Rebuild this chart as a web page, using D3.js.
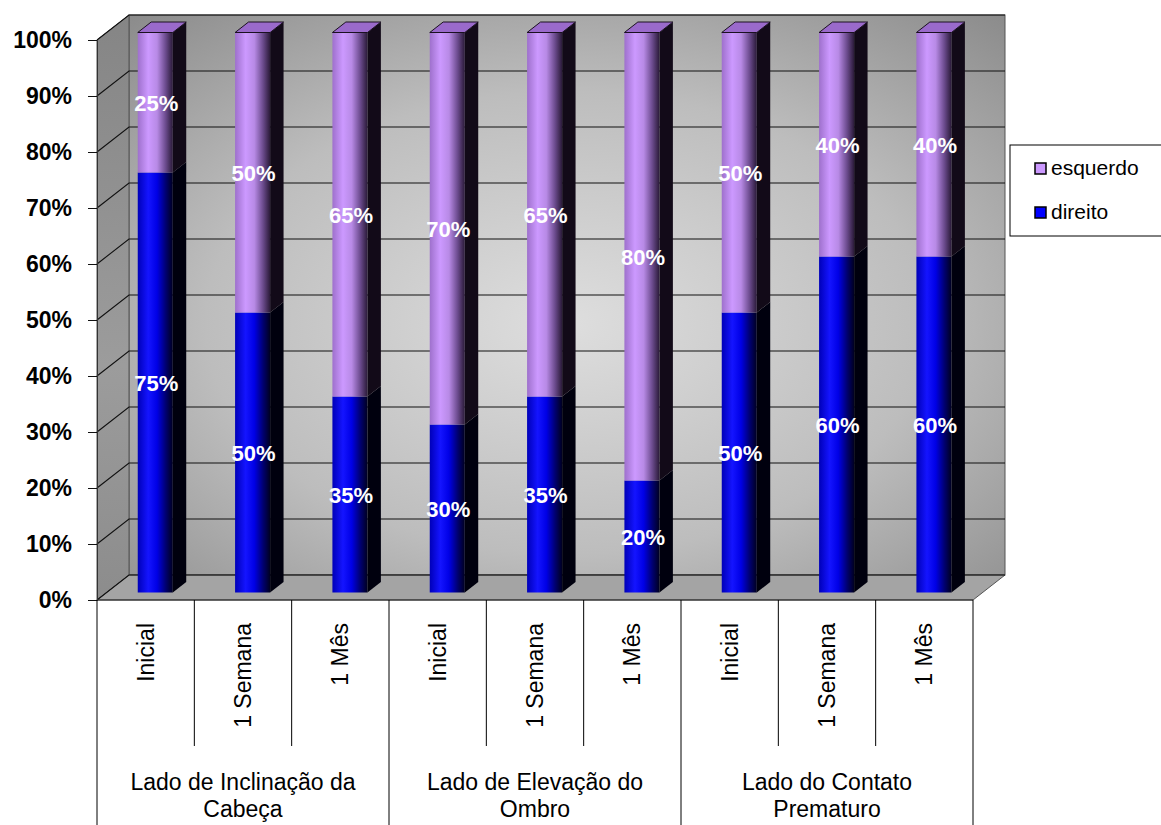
<!DOCTYPE html>
<html><head><meta charset="utf-8">
<script src="https://cdn.jsdelivr.net/npm/d3@7"></script>
<style>body{margin:0;background:#fff}svg{display:block}text{font-family:Arial,"Liberation Sans",sans-serif}</style>
</head><body><svg id="c" width="1161" height="825"></svg>
<script>
const subLabels = ["Inicial","1 Semana","1 Mês","Inicial","1 Semana","1 Mês","Inicial","1 Semana","1 Mês"];
const groups = [["Lado de Inclinação da","Cabeça"],["Lado de Elevação do","Ombro"],["Lado do Contato","Prematuro"]];
const direito = [75,50,35,30,35,20,50,60,60];
const esquerdo = [25,50,65,70,65,80,50,40,40];
const yTicks = [0,10,20,30,40,50,60,70,80,90,100];
const seriesNames = ["esquerdo","direito"];

const svg = d3.select("#c");
const DX = 32, DY = -25;
const x = d3.scaleBand().domain(d3.range(subLabels.length)).range([97, 973]).paddingInner(0).paddingOuter(0);
const y = d3.scaleLinear().domain([0,100]).range([600,40]);
const defs = svg.append("defs");

const rg = defs.append("radialGradient").attr("id","wall").attr("cx","0.5").attr("cy","0.55").attr("r","0.75");
rg.append("stop").attr("offset","0").attr("stop-color","#dedede");
rg.append("stop").attr("offset","0.55").attr("stop-color","#bdbdbd");
rg.append("stop").attr("offset","1").attr("stop-color","#8a8a8a");
const sg = defs.append("linearGradient").attr("id","side").attr("x1","0").attr("y1","0").attr("x2","0").attr("y2","1");
sg.append("stop").attr("offset","0").attr("stop-color","#858585");
sg.append("stop").attr("offset","0.6").attr("stop-color","#9c9c9c");
sg.append("stop").attr("offset","1").attr("stop-color","#8c8c8c");

function hgrad(id, stops){
  const g = defs.append("linearGradient").attr("id",id).attr("x1","0").attr("x2","1").attr("y1","0").attr("y2","0");
  stops.forEach(s=>g.append("stop").attr("offset",s[0]).attr("stop-color",s[1]));
}
hgrad("blueF",[[0,"#0000b8"],[0.3,"#1414ff"],[0.55,"#0000e6"],[0.8,"#000070"],[1,"#000020"]]);
hgrad("purpF",[[0,"#9e70cc"],[0.3,"#cc99ff"],[0.55,"#b88ae6"],[0.8,"#6a4a8c"],[1,"#2a1a38"]]);

const y0 = y(0), yT = y(100), xL = x.range()[0], xR = x.range()[1];
svg.append("rect").attr("x",xL+DX).attr("y",yT+DY).attr("width",xR-xL).attr("height",y0-yT)
  .attr("fill","url(#wall)").attr("stroke","#555").attr("stroke-width",1);
svg.append("path").attr("d",`M${xL},${yT}L${xL+DX},${yT+DY}L${xL+DX},${y0+DY}L${xL},${y0}Z`)
  .attr("fill","url(#side)").attr("stroke","#555").attr("stroke-width",1);
svg.append("path").attr("d",`M${xL},${y0}L${xL+DX},${y0+DY}L${xR+DX},${y0+DY}L${xR},${y0}Z`)
  .attr("fill","#a4a4a4").attr("stroke","#555").attr("stroke-width",1);
yTicks.forEach(t=>{
  const yy = y(t);
  svg.append("path").attr("d",`M${xL},${yy}L${xL+DX},${yy+DY}L${xR+DX},${yy+DY}`)
    .attr("fill","none").attr("stroke","#111").attr("stroke-width",1.1);
});
svg.append("line").attr("x1",xL).attr("y1",y0).attr("x2",xR).attr("y2",y0).attr("stroke","#222");

const yAxis = d3.axisLeft(y).tickValues(yTicks).tickSize(9).tickPadding(16).tickFormat(d=>d+"%");
const ga = svg.append("g").attr("transform",`translate(${xL},0)`).call(yAxis);
ga.select(".domain").attr("stroke","#333");
ga.selectAll(".tick line").attr("stroke","#111");
ga.selectAll(".tick text").attr("font-size",23).attr("font-weight","bold").attr("fill","#000")
  .style("font-family","Arial, 'Liberation Sans', sans-serif");

const f0 = 0.3, f1 = 0.72;
const bw = x.bandwidth()*0.36;
const ox = DX*f0, oy = DY*f0, dxs = DX*(f1-f0), dys = DY*(f1-f0);
const bars = svg.append("g");
const labels = svg.append("g");
direito.forEach((dv,i)=>{
  const bx = x(i) + (x.bandwidth()-bw)/2 + ox;
  const segs = [{a:0,b:dv,fill:"url(#blueF)",side:"#00000e",top:"#2020c0"},
                {a:dv,b:dv+esquerdo[i],fill:"url(#purpF)",side:"#120a18",top:"#9a6acb"}];
  segs.forEach((s,k)=>{
    const ya = y(s.a)+oy, yb = y(s.b)+oy;
    bars.append("path").attr("d",`M${bx+bw},${yb}L${bx+bw+dxs},${yb+dys}L${bx+bw+dxs},${ya+dys}L${bx+bw},${ya}Z`).attr("fill",s.side);
    bars.append("rect").attr("x",bx).attr("y",yb).attr("width",bw).attr("height",ya-yb).attr("fill",s.fill);
    if(k===1){
      bars.append("path").attr("d",`M${bx},${yb}L${bx+dxs},${yb+dys}L${bx+bw+dxs},${yb+dys}L${bx+bw},${yb}Z`)
        .attr("fill",s.top).attr("stroke","#1a1020").attr("stroke-width",1);
    }
    labels.append("text").attr("x",bx+bw/2+1).attr("y",(ya+yb)/2+8).attr("text-anchor","middle")
      .attr("font-size",22).attr("font-weight","bold").attr("fill","#fff")
      .text((s.b-s.a)+"%");
  });
});

const tbl = svg.append("g").attr("stroke","#000").attr("stroke-width",1);
d3.range(subLabels.length+1).forEach(i=>{
  const xx = i<subLabels.length ? x(i) : xR;
  const full = (i%3===0);
  tbl.append("line").attr("x1",xx).attr("x2",xx).attr("y1",y0).attr("y2",full?825:746);
});
subLabels.forEach((s,i)=>{
  const cx = x(i)+x.bandwidth()/2;
  svg.append("text").attr("transform",`translate(${cx+8},623) rotate(-90)`).attr("text-anchor","end")
    .attr("font-size",23).attr("fill","#000").text(s);
});
groups.forEach((g,j)=>{
  const cx = (x(j*3) + x(j*3+2) + x.bandwidth())/2;
  g.forEach((line,k)=>{
    svg.append("text").attr("x",cx).attr("y",790+k*27).attr("text-anchor","middle")
      .attr("font-size",23).attr("fill","#000").text(line);
  });
});

const lg = svg.append("g");
lg.append("rect").attr("x",1010).attr("y",145).attr("width",170).attr("height",91).attr("fill","#fff").attr("stroke","#000");
const legFill = {esquerdo:"#cc99ff", direito:"#0000ff"};
seriesNames.forEach((n,k)=>{
  const yy = 169 + k*44;
  lg.append("rect").attr("x",1035).attr("y",yy-6).attr("width",11).attr("height",11).attr("fill",legFill[n]).attr("stroke","#000").attr("stroke-width",1.5);
  lg.append("text").attr("x",1051).attr("y",yy+6).attr("font-size",21).attr("fill","#000").text(n);
});
</script></body></html>
